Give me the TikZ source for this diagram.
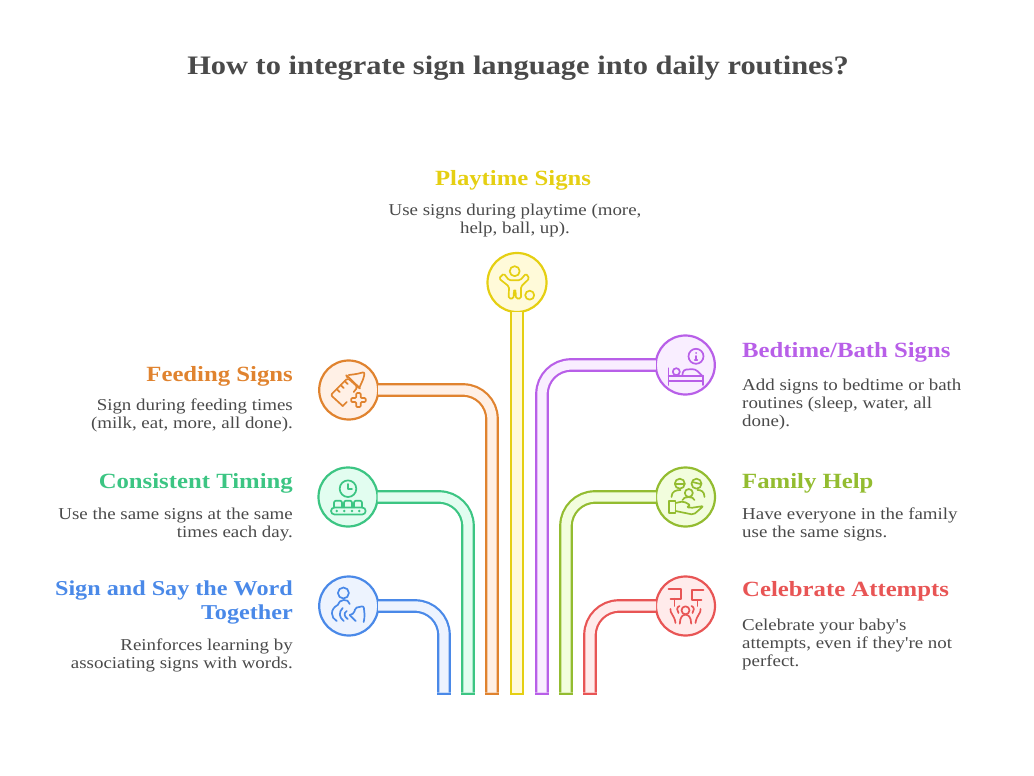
\documentclass[tikz,border=0pt]{standalone}
\usepackage{fontspec}
\setmainfont[FakeStretch=1.14,Ligatures=TeXOff]{Liberation Serif}
\definecolor{ink}{RGB}{74,74,74}
\definecolor{c1}{RGB}{74,137,232}
\definecolor{f1}{RGB}{237,243,254}
\definecolor{c2}{RGB}{60,197,131}
\definecolor{f2}{RGB}{226,253,240}
\definecolor{c3}{RGB}{224,131,47}
\definecolor{f3}{RGB}{255,240,230}
\definecolor{c4}{RGB}{229,207,18}
\definecolor{f4}{RGB}{255,250,217}
\definecolor{c5}{RGB}{184,95,232}
\definecolor{f5}{RGB}{249,238,255}
\definecolor{c6}{RGB}{147,188,48}
\definecolor{f6}{RGB}{242,253,221}
\definecolor{c7}{RGB}{232,85,85}
\definecolor{f7}{RGB}{255,235,235}
\tikzset{
  badge/.style 2 args={circle,draw=#1,fill=#2,line width=2.2pt,minimum size=59pt,inner sep=0pt,outer sep=0pt},
  foot/.style={rectangle,fill=#1,minimum width=13.5pt,minimum height=2.2pt,inner sep=0pt,outer sep=0pt},
  tube/.style 2 args={draw=#1,double=#2,double distance=9.3pt,line width=2.2pt,rounded corners=29pt},
  icon/.style={draw=#1,line width=1.7pt,line cap=round,line join=round},
  head/.style={font=\fontsize{21.7}{24}\selectfont\bfseries,inner sep=0pt},
  note/.style={font=\fontsize{16.6}{18}\selectfont,text=ink,inner sep=0pt},
}
\begin{document}
\begin{tikzpicture}[x=1pt,y=-1pt]
    \useasboundingbox (0,0) rectangle (1034,776);
    \node[font=\fontsize{26.7}{32}\selectfont\bfseries,text=ink,inner sep=0pt] (title) at (518,68) {How to integrate sign language into daily routines?};

    % the badges come first, the tubes stop on their border
    \node[badge={c1}{f1}] (say) at (348.7,606) {};
    \node[badge={c2}{f2}] (timing) at (348,497) {};
    \node[badge={c3}{f3}] (feeding) at (348.7,390) {};
    \node[badge={c4}{f4}] (play) at (517,282.5) {};
    \node[badge={c5}{f5}] (bed) at (685.3,365) {};
    \node[badge={c6}{f6}] (family) at (685.5,497) {};
    \node[badge={c7}{f7}] (attempts) at (685.5,606) {};

    \node[foot=c1] (saybase) at (444,693.7) {};
    \node[foot=c2] (timingbase) at (468,693.7) {};
    \node[foot=c3] (feedingbase) at (492,693.7) {};
    \node[foot=c4] (playbase) at (517,693.7) {};
    \node[foot=c5] (bedbase) at (542,693.7) {};
    \node[foot=c6] (familybase) at (566,693.7) {};
    \node[foot=c7] (attemptsbase) at (590,693.7) {};

    \draw[tube={c1}{f1}] (say) -| (saybase);
    \draw[tube={c2}{f2}] (timing) -| (timingbase);
    \draw[tube={c3}{f3}] (feeding) -| (feedingbase);
    \draw[tube={c4}{f4}] (play) -- (playbase);
    \draw[tube={c5}{f5}] (bed) -| (bedbase);
    \draw[tube={c6}{f6}] (family) -| (familybase);
    \draw[tube={c7}{f7}] (attempts) -| (attemptsbase);

    % left column, right aligned
    \node[head,text=c3,anchor=east] (feedinghead) at (293,376) {Feeding Signs};
    \node[note,align=right,anchor=north east] (feedingnote) at (293,399) {Sign during feeding times\\(milk, eat, more, all done).};
    \node[head,text=c2,anchor=east] (timinghead) at (293,483.5) {Consistent Timing};
    \node[note,align=right,anchor=north east] (timingnote) at (293,507.5) {Use the same signs at the same\\times each day.};
    \node[head,font=\fontsize{21.2}{24}\selectfont\bfseries,text=c1,align=right,anchor=north east] (sayhead) at (293,580.5) {Sign and Say the Word\\Together};
    \node[note,align=right,anchor=north east] (saynote) at (293,639) {Reinforces learning by\\associating signs with words.};
    % top, centered
    \node[head,text=c4] (playhead) at (513,180) {Playtime Signs};
    \node[note,align=center,anchor=north] (playnote) at (515,204) {Use signs during playtime (more,\\help, ball, up).};
    % right column
    \node[head,text=c5,anchor=west] (bedhead) at (742,352) {Bedtime/Bath Signs};
    \node[note,align=left,anchor=north west] (bednote) at (742,379) {Add signs to bedtime or bath\\routines (sleep, water, all\\done).};
    \node[head,text=c6,anchor=west] (familyhead) at (742,483.5) {Family Help};
    \node[note,align=left,anchor=north west] (familynote) at (742,507.5) {Have everyone in the family\\use the same signs.};
    \node[head,text=c7,anchor=west] (attemptshead) at (742,591) {Celebrate Attempts};
    \node[note,align=left,anchor=north west] (attemptsnote) at (742,619) {Celebrate your baby's\\attempts, even if they're not\\perfect.};

    \begin{scope}[shift={(348.7,606)},icon=c1] %say
        \draw (-5.3,-13) circle (5.5);
        \draw (-11,-1) .. controls (-10,-7) and (0,-8) .. (1,-2);
        \draw (-11,-1) .. controls (-19,3) and (-18,12) .. (-12,15);
        \draw (-6,2) .. controls (-10,6) and (-10,11) .. (-5,15);
        \draw (-2,5) .. controls (-5,7) and (-5,10) .. (-1,13);
        \draw[rounded corners=2pt] (1,9) -- (6,7) -- (6,2) -- (15,0) -- (16,10) -- (15,16);
        \draw (1,9) -- (7,15);
    \end{scope}
    \begin{scope}[shift={(348,497)},icon=c2] %timing
        \draw (0,-8.3) circle (8.3);
        \draw (0,-13) -- (0,-8) -- (4,-8);
        \foreach \bx in {-10,0,10}
            \draw[rounded corners=2pt] (\bx-4,10.5) -- (\bx-4,3.7) -- (\bx+4,3.7) -- (\bx+4,10.5);
        \draw[rounded corners=3.5pt] (-17,10.5) rectangle (17.7,17.5);
        \foreach \bx in {-11.3,-3.7,4,11.3}
            \fill[c2] (\bx,14) circle (1.4);
    \end{scope}
    \begin{scope}[shift={(348.7,390)},icon=c3] %feeding
        \draw[rounded corners=2pt] (-6,16) -- (-18,5) -- (-1,-12) -- (9,-3) -- (5,2);
        \draw (-6,16) -- (-2,12);
        \draw[rounded corners=1pt] (-1,-12) -- (-3,-15.5) -- (12,-1) -- (9,-3);
        \draw[rounded corners=2pt] (0,-15) -- (8,-16) -- (16,-18) -- (15,-12) -- (11,-3);
        \draw (-12,-1) -- (-9,2) (-8,-5) -- (-5,-2) (-4,-9) -- (-1,-6);
        \draw[rounded corners=1pt] (7.5,3) -- (12,3) -- (12,8) -- (17,8) -- (17,12) -- (12,12) -- (12,17) -- (7.5,17) -- (7.5,12) -- (2.5,12) -- (2.5,8) -- (7.5,8) -- cycle;
    \end{scope}
    \begin{scope}[shift={(517,282.5)},icon=c4] %play
        \draw (-2.3,-11.3) circle (5);
        \draw[rounded corners=1.5pt] (-13.3,-9) -- (-8,-2.3) -- (3.3,-2.3) -- (9,-9) -- (12.3,-4) -- (4,4) -- (4,16) -- (-1,16) -- (-1.5,8) -- (-3,8) -- (-3.5,16) -- (-8.3,16) -- (-8,4) -- (-18,-4) -- cycle;
        \draw (12.7,12.7) circle (4.5);
    \end{scope}
    \begin{scope}[shift={(685.3,365)},icon=c5] %bed
        \draw (10.7,-8.7) circle (7.5);
        \draw (10.7,-9) -- (10.7,-5) (9.5,-5) -- (12,-5);
        \fill[c5] (10.7,-12) circle (1);
        \draw (-16.7,3.3) -- (-16.7,20) (17.7,10.7) -- (17.7,20);
        \draw (-16.7,10.7) -- (17.7,10.7) (-16.7,15.7) -- (17.7,15.7);
        \draw (-9,6.7) circle (3.5);
        \draw[rounded corners=3pt] (-3,10.7) -- (-2,4.7) -- (10,4) -- (16.7,10.7);
    \end{scope}
    \begin{scope}[shift={(685.5,497)},icon=c6] %family
        \draw (-5.7,-13.3) circle (5);
        \draw (11,-13.3) circle (5);
        \draw (3.3,-4) circle (4);
        \draw (-10,-13) -- (-1,-13) (7,-15) -- (15,-13);
        \draw (-14,0) .. controls (-14,-6) and (-9,-7) .. (-5,-7);
        \draw (19,0) .. controls (19,-6) and (15,-7) .. (12,-7);
        \draw (-3,3) .. controls (-2,-1) and (8,-1) .. (9,3);
        \draw (-16.7,4.3) rectangle (-10,16);
        \draw[rounded corners=2pt] (-10,6) -- (-2,4.3) -- (5,8.3) -- (1,10) -- (5,11) -- (18,9) -- (8,17.7) -- (-10,14);
    \end{scope}
    \begin{scope}[shift={(685.5,606)},icon=c7] %attempts
        \draw (-17,-16.7) -- (-4.3,-16.7) -- (-4.3,-7.3) -- (-15,-7.3);
        \draw (18,-15.7) -- (6.7,-15.7) -- (6.7,-6) -- (16,-6);
        \draw (-11,-7.3) -- (-11,0) (12,-6) -- (12,0);
        \draw (0,4.3) circle (4);
        \draw (-5.7,17.7) .. controls (-5.5,11) and (-3,8.7) .. (0,8.7) .. controls (3,8.7) and (5.5,11) .. (5.7,17.7);
        \draw (-15,3) .. controls (-16,7) and (-11,9) .. (-10,17);
        \draw (15,3) .. controls (16,7) and (11,9) .. (10,17);
        \draw (-6,0) .. controls (-9,1) and (-9,5) .. (-7,7);
        \draw (6,0) .. controls (9,1) and (9,5) .. (7,7);
    \end{scope}
\end{tikzpicture}
\end{document}
